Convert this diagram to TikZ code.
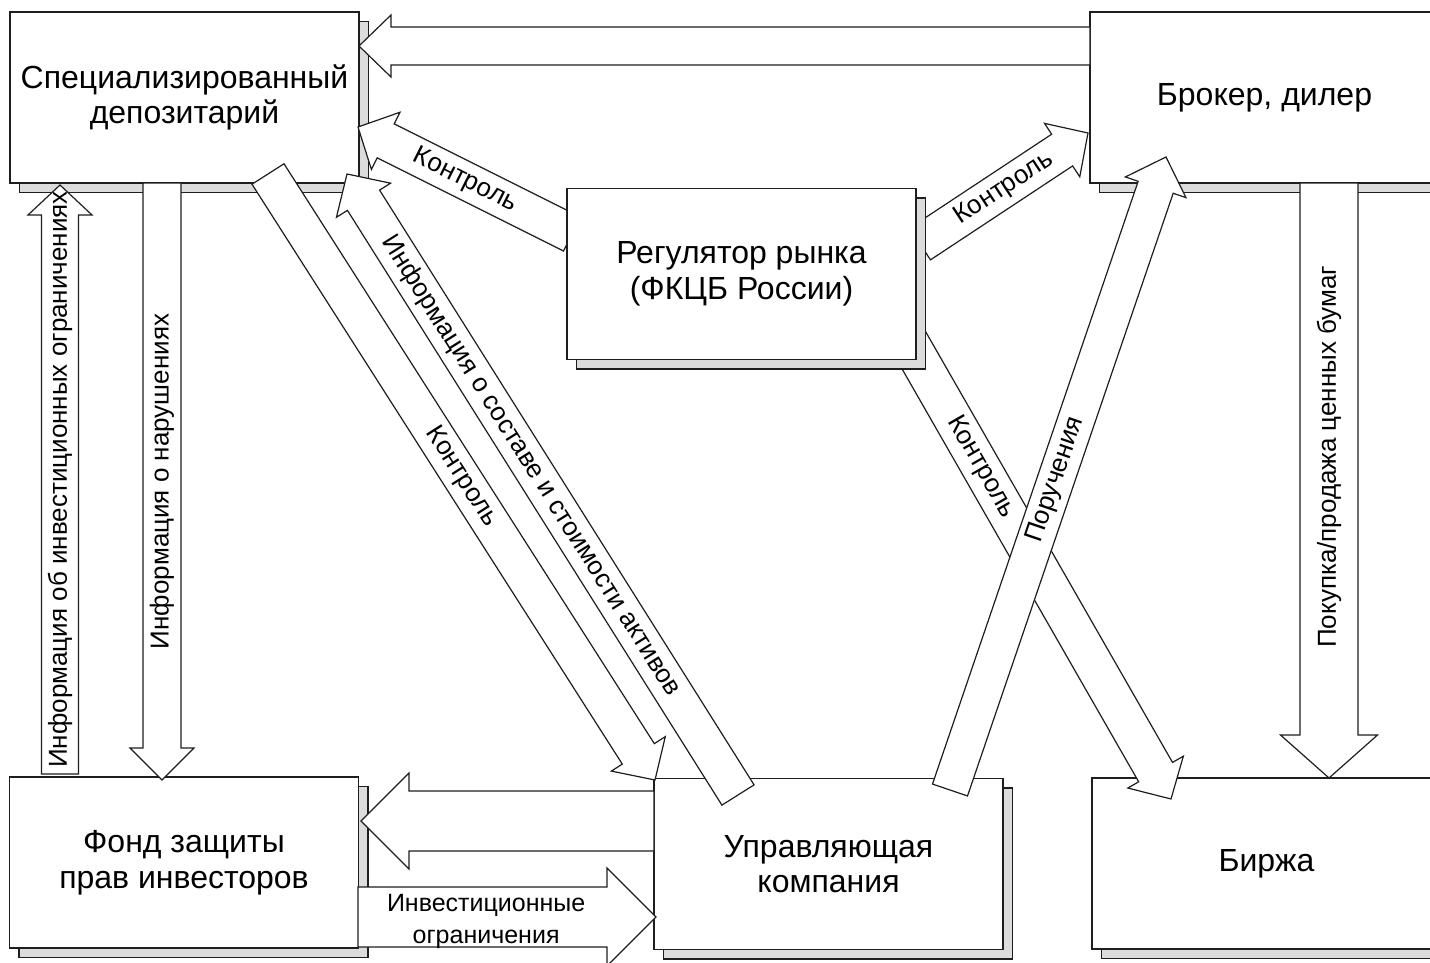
\documentclass[tikz,border=0pt]{standalone}
\usepackage{fontspec}
\setmainfont{Liberation Sans}
\usetikzlibrary{calc,shadows}
\definecolor{edge}{HTML}{1E1E1E}
\definecolor{shade}{HTML}{DCDCDC}
\tikzset{
  box/.style={draw=edge, fill=white, line width=0.7pt, minimum width=174.5pt,
    minimum height=85.5pt, align=center, font=\fontsize{16}{17.8}\selectfont,
    copy shadow={shadow xshift=4.75pt, shadow yshift=-4.75pt, fill=shade, draw=edge, line width=0.7pt}},
  blockarr/.style={draw=edge, fill=white, line width=0.6pt, line join=miter},
  arrlbl/.style={font=\fontsize{13}{15}\selectfont, inner sep=0pt},
  smalllbl/.style={font=\fontsize{12.5}{16}\selectfont, inner sep=0pt, align=center}
}
% tail, tip, shaft half width, head half width, head length
\newcommand{\blockarrow}[5]{%
  \coordinate (hb) at ($(#2)!#5!(#1)$);
  \draw[blockarr] ($(#1)!#3!90:(#2)$) -- ($(hb)!#3!-90:(#1)$) -- ($(hb)!#4!-90:(#1)$)
    -- (#2) -- ($(hb)!#4!90:(#1)$) -- ($(hb)!#3!90:(#1)$) -- ($(#1)!#3!-90:(#2)$) -- cycle;
}

\begin{document}
\begin{tikzpicture}[x=0.5pt, y=-0.5pt]
  \useasboundingbox (0,0) rectangle (1430,963);

  % boxes
  \node[box] (dep) at (184.5,97.5) {Специализированный\\депозитарий};
  \node[box] (brk) at (1264.5,97.5) {Брокер, дилер};
  \node[box] (fund) at (184,862.5) {Фонд защиты\\прав инвесторов};
  \node[box] (uk) at (828.5,864) {Управляющая\\компания};
  \node[box] (birzha) at (1266.5,863.5) {Биржа};

  % arrow ends
  \coordinate (brkT) at (1090,46);    \coordinate (depH1) at (359,46);
  \coordinate (regT1) at (572,234);   \coordinate (depH2) at (358,127);
  \coordinate (regT2) at (920,244);   \coordinate (brkH1) at (1088,133);
  \coordinate (regT3) at (885,300);   \coordinate (birH1) at (1171,799);
  \coordinate (depT1) at (268,174);   \coordinate (ukH1) at (655,780);
  \coordinate (ukT1) at (738,795);    \coordinate (depH3) at (347,174);
  \coordinate (ukT2) at (950,790);    \coordinate (brkH2) at (1166,157);
  \coordinate (fundT1) at (60,774);   \coordinate (depH4) at (60,185);
  \coordinate (depT2) at (162,183);   \coordinate (fundH1) at (162,780);
  \coordinate (brkT2) at (1329,183);  \coordinate (birH2) at (1329,778);
  \coordinate (ukT3) at (654,821);    \coordinate (fundH2) at (361,821);
  \coordinate (fundT2) at (358,917);  \coordinate (ukH2) at (656,917);

  % block arrows
  \blockarrow{brkT}{depH1}{9.5pt}{15.5pt}{16pt}
  \blockarrow{fundT1}{depH4}{9.25pt}{16pt}{15pt}
  \path (fundT1) -- (depH4) node[arrlbl, sloped, pos=.5] {Информация об инвестиционных ограничениях};
  \blockarrow{depT2}{fundH1}{9.5pt}{16pt}{16pt}
  \path (fundH1) -- (depT2) node[arrlbl, sloped, pos=.5] {Информация о нарушениях};
  \blockarrow{brkT2}{birH2}{14.5pt}{24.25pt}{21.5pt}
  \path (birH2) -- (brkT2) node[arrlbl, sloped, pos=.54] {Покупка/продажа ценных бумаг};
  \blockarrow{ukT3}{fundH2}{15pt}{24pt}{24pt}
  \blockarrow{fundT2}{ukH2}{15pt}{24.5pt}{24.5pt}
  \path (fundT2) -- (ukH2) node[smalllbl, pos=.43, yshift=-2pt] {Инвестиционные\\ограничения};
  \blockarrow{depT1}{ukH1}{9.5pt}{16pt}{15.5pt}
  \path (depT1) -- (ukH1) node[arrlbl, sloped, pos=.5] {Контроль};
  \blockarrow{ukT1}{depH3}{9.5pt}{16pt}{15.5pt}
  \path (ukT1) -- (depH3) node[arrlbl, sloped, pos=.53] {Информация о составе и стоимости активов};
  \blockarrow{regT1}{depH2}{9.5pt}{16pt}{15.5pt}
  \path (regT1) -- (depH2) node[arrlbl, sloped, pos=.5] {Контроль};
  \blockarrow{regT2}{brkH1}{9.5pt}{16pt}{15.5pt}
  \path (regT2) -- (brkH1) node[arrlbl, sloped, pos=.5] {Контроль};
  \blockarrow{regT3}{birH1}{9.75pt}{16pt}{15.5pt}
  \path (regT3) -- (birH1) node[arrlbl, sloped, pos=.335] {Контроль};
  \blockarrow{ukT2}{brkH2}{9.25pt}{16pt}{16pt}
  \path (ukT2) -- (brkH2) node[arrlbl, sloped, pos=.49] {Поручения};

  % regulator on top
  \node[box] (reg) at (741.5,274) {Регулятор рынка\\(ФКЦБ России)};
\end{tikzpicture}
\end{document}
